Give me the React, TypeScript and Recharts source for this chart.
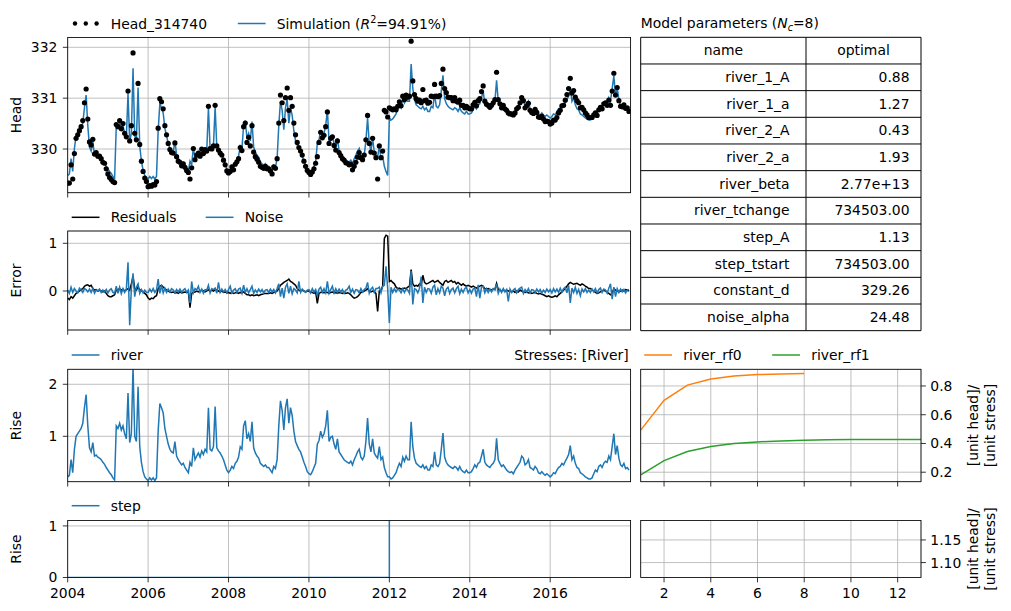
import React from 'react';
import { ComposedChart, Line, XAxis, YAxis, CartesianGrid } from 'recharts';

const W = 1011;
const H = 611;
const FONT = "'DejaVu Sans', sans-serif";
const FS = 13.9;
const BLUE = '#1f77b4';
const ORANGE = '#ff7f0e';
const GREEN = '#2ca02c';
const GRID = '#b0b0b0';

// Model parameters table
const paramNames = [
  'river_1_A', 'river_1_a', 'river_2_A', 'river_2_a', 'river_beta',
  'river_tchange', 'step_A', 'step_tstart', 'constant_d', 'noise_alpha',
];
const paramValues = [
  '0.88', '1.27', '0.43', '1.93', '2.77e+13',
  '734503.00', '1.13', '734503.00', '329.26', '24.48',
];

const constantD = 329.26;
const stepA = 1.13;
const stepStart = 2012.0; // 734503 = 2012-01-01

// Semi-monthly samples, 24 per year, starting 2004-01-01
const startYear = 2004;
const samplesPerYear = 24;

// Contribution of the river stress (rise)
const riverRise = [
  0.22, 0.25, 0.55, 0.30, 0.75, 1.00, 1.05, 1.10, 1.15, 1.25, 1.55, 1.80, 1.20, 0.78, 0.70, 0.88, 0.62, 0.64, 0.60, 0.58, 0.55, 0.50, 0.46, 0.40, // 2004
  0.35, 0.30, 0.26, 0.20, 0.16, 1.20, 1.15, 1.25, 1.12, 1.20, 1.05, 0.95, 1.83, 0.88, 1.05, 2.33, 1.00, 0.90, 1.95, 0.80, 0.50, 0.32, 0.22, 0.18, // 2005
  0.15, 0.20, 0.16, 0.20, 0.15, 0.20, 1.10, 1.63, 1.55, 1.45, 1.15, 1.00, 0.85, 0.75, 0.70, 0.68, 0.90, 0.62, 0.55, 0.50, 0.45, 0.48, 0.40, 0.35, // 2006
  0.30, 0.50, 0.42, 0.78, 0.55, 0.62, 0.68, 0.60, 0.72, 0.65, 0.75, 0.70, 1.55, 0.75, 0.72, 0.80, 1.57, 0.78, 0.72, 0.68, 0.62, 0.55, 0.45, 0.35, // 2007
  0.30, 0.35, 0.42, 0.38, 0.48, 0.52, 0.60, 0.80, 0.75, 1.20, 1.30, 0.95, 1.05, 0.90, 1.28, 0.78, 0.68, 0.62, 0.58, 0.48, 0.45, 0.42, 0.45, 0.40, // 2008
  0.40, 0.35, 0.30, 0.42, 0.38, 0.55, 1.20, 1.68, 1.50, 1.12, 1.55, 1.72, 1.25, 1.55, 1.40, 1.10, 0.90, 0.82, 0.75, 0.70, 0.60, 0.50, 0.42, 0.32, // 2009
  0.28, 0.26, 0.32, 0.40, 0.48, 0.85, 0.92, 1.10, 0.98, 1.05, 1.20, 1.50, 0.90, 0.98, 1.00, 0.85, 0.75, 0.95, 0.70, 0.65, 0.60, 0.55, 0.52, 0.50, // 2010
  0.48, 0.52, 0.45, 0.55, 0.62, 0.70, 0.75, 0.60, 0.55, 0.62, 0.90, 1.35, 0.85, 0.70, 0.95, 0.68, 0.62, 0.58, 0.80, 0.55, 0.60, 0.40, 0.30, 0.22, // 2011
  0.22, 0.18, 0.20, 0.25, 0.30, 0.40, 0.48, 0.42, 0.60, 0.52, 0.62, 0.55, 0.55, 1.28, 0.80, 0.58, 0.48, 0.45, 0.42, 0.40, 0.45, 0.38, 0.42, 0.35, // 2012
  0.35, 0.45, 0.42, 0.70, 0.45, 0.42, 0.48, 0.75, 1.06, 0.60, 0.50, 0.45, 0.42, 0.40, 0.38, 0.42, 0.40, 0.35, 0.42, 0.35, 0.32, 0.30, 0.35, 0.30, // 2013
  0.30, 0.32, 0.38, 0.45, 0.40, 0.48, 0.50, 0.62, 0.75, 0.50, 0.45, 0.42, 0.40, 0.45, 0.48, 0.55, 0.96, 0.55, 0.48, 0.42, 0.45, 0.40, 0.35, 0.32, // 2014
  0.30, 0.32, 0.28, 0.35, 0.40, 0.45, 0.50, 0.62, 0.58, 0.45, 0.48, 0.55, 0.40, 0.38, 0.35, 0.42, 0.38, 0.30, 0.28, 0.32, 0.28, 0.25, 0.28, 0.25, // 2015
  0.22, 0.25, 0.30, 0.28, 0.35, 0.40, 0.42, 0.48, 0.45, 0.52, 0.58, 0.65, 0.82, 0.55, 0.62, 0.48, 0.40, 0.38, 0.30, 0.28, 0.25, 0.22, 0.20, 0.18, // 2016
  0.18, 0.20, 0.28, 0.35, 0.32, 0.42, 0.45, 0.40, 0.48, 0.52, 0.50, 0.62, 0.55, 0.80, 1.05, 0.65, 0.82, 0.58, 0.45, 0.42, 0.48, 0.38, 0.40, 0.35, // 2017
];

// Residuals: observed minus simulated head
const residuals = [
  -0.15, -0.18, -0.12, -0.15, -0.10, -0.05, -0.03, 0.00, 0.03, 0.05, 0.10, 0.12, 0.13, 0.10, 0.12, 0.05, 0.02, 0.03, 0.00, 0.02, 0.00, -0.02, 0.00, -0.05, // 2004
  -0.10, -0.12, -0.12, -0.10, -0.08, 0.02, 0.03, 0.05, 0.02, 0.04, 0.00, 0.03, 0.05, 0.02, 0.15, 0.30, 0.05, 0.02, 0.08, 0.03, 0.00, -0.02, -0.05, -0.08, // 2005
  -0.15, -0.18, -0.15, -0.16, -0.12, -0.10, 0.05, 0.10, 0.12, 0.08, 0.05, 0.02, 0.00, -0.02, -0.03, -0.02, -0.04, -0.03, -0.05, -0.02, -0.04, -0.03, -0.02, -0.03, // 2006
  -0.02, -0.35, -0.05, -0.03, -0.02, 0.00, -0.02, 0.00, 0.02, 0.00, -0.02, 0.00, 0.03, 0.00, 0.02, 0.00, 0.03, 0.02, 0.00, -0.02, 0.00, -0.03, -0.02, -0.04, // 2007
  -0.03, -0.05, -0.03, -0.05, -0.04, -0.03, -0.05, -0.03, -0.04, -0.02, -0.05, -0.08, -0.08, -0.10, -0.08, -0.10, -0.09, -0.08, -0.10, -0.08, -0.07, -0.06, -0.05, -0.05, // 2008
  -0.05, -0.04, -0.05, -0.03, -0.02, 0.00, 0.05, 0.12, 0.15, 0.18, 0.20, 0.22, 0.25, 0.20, 0.18, 0.15, 0.12, 0.05, 0.02, 0.00, 0.02, 0.00, -0.02, 0.00, // 2009
  0.00, -0.02, -0.03, -0.05, -0.02, -0.26, -0.05, -0.03, -0.02, -0.04, -0.02, -0.03, -0.05, -0.03, -0.02, -0.04, -0.03, -0.05, -0.03, -0.04, -0.05, -0.03, -0.05, -0.04, // 2010
  -0.05, -0.08, -0.12, -0.15, -0.14, -0.12, -0.08, -0.03, -0.02, 0.00, 0.02, 0.05, 0.00, -0.02, 0.00, -0.02, -0.05, -0.43, 0.00, 0.02, 0.10, 1.10, 1.17, 1.15, // 2011
  0.20, 0.22, 0.18, 0.15, 0.08, 0.05, 0.06, 0.04, 0.05, 0.06, 0.05, 0.08, 0.10, 0.45, 0.15, 0.10, 0.12, 0.10, 0.15, 0.12, 0.33, 0.18, 0.15, 0.16, // 2012
  0.18, 0.20, 0.22, 0.18, 0.20, 0.22, 0.18, 0.15, 0.12, 0.20, 0.22, 0.18, 0.20, 0.22, 0.18, 0.20, 0.15, 0.18, 0.15, 0.12, 0.15, 0.12, 0.10, 0.12, // 2013
  0.10, 0.08, 0.10, 0.08, 0.06, 0.08, 0.10, 0.12, 0.10, 0.05, 0.04, 0.05, 0.03, 0.02, 0.04, 0.03, 0.16, 0.03, 0.02, 0.00, 0.02, 0.00, 0.02, 0.00, // 2014
  0.00, -0.02, 0.00, -0.03, 0.00, -0.02, 0.02, 0.00, -0.02, -0.03, -0.02, -0.04, -0.03, -0.05, -0.04, -0.03, -0.05, -0.06, -0.05, -0.07, -0.08, -0.10, -0.12, -0.10, // 2015
  -0.12, -0.13, -0.12, -0.10, -0.12, -0.08, -0.05, -0.02, 0.02, 0.05, 0.10, 0.15, 0.18, 0.16, 0.14, 0.15, 0.16, 0.14, 0.12, 0.15, 0.13, 0.10, 0.08, 0.05, // 2016
  0.05, 0.03, 0.00, -0.03, -0.05, -0.04, -0.02, 0.00, 0.02, 0.00, -0.03, -0.05, -0.08, -0.05, 0.05, 0.02, 0.00, -0.02, 0.00, 0.02, 0.00, 0.03, 0.02, 0.00, // 2017
];

// Noise series of the noise model
const noise = [
  0.02, -0.05, 0.08, -0.03, 0.05, 0.00, -0.04, 0.06, 0.02, -0.03, 0.05, 0.03, -0.02, 0.04, -0.03, 0.06, -0.05, 0.02, 0.00, 0.04, -0.03, 0.02, -0.02, 0.03, // 2004
  -0.04, 0.02, 0.05, -0.03, -0.05, 0.10, -0.05, 0.08, -0.06, 0.05, -0.03, 0.04, 0.60, -0.72, 0.05, 0.37, -0.12, 0.08, 0.15, -0.05, 0.03, -0.04, 0.02, -0.03, // 2005
  -0.03, 0.04, -0.02, 0.05, -0.03, 0.02, 0.25, -0.05, 0.12, -0.04, 0.06, -0.03, 0.04, -0.02, 0.05, 0.02, -0.04, 0.03, -0.02, 0.04, -0.03, 0.02, 0.05, -0.03, // 2006
  0.02, -0.25, 0.20, -0.04, 0.05, 0.02, 0.10, -0.03, 0.04, -0.05, 0.03, 0.02, 0.12, -0.04, 0.05, 0.03, 0.06, -0.05, 0.18, -0.03, 0.04, -0.02, 0.03, -0.04, // 2007
  0.03, 0.10, -0.04, 0.02, 0.05, -0.03, 0.04, 0.06, -0.05, 0.12, -0.03, 0.05, -0.04, 0.03, 0.10, -0.05, 0.02, -0.03, 0.04, -0.02, 0.03, -0.04, 0.02, 0.03, // 2008
  -0.03, 0.04, -0.02, 0.03, -0.04, 0.05, 0.15, -0.12, 0.06, -0.15, 0.08, 0.15, -0.05, 0.10, -0.06, 0.05, 0.02, -0.04, 0.20, -0.03, 0.04, 0.00, -0.03, 0.02, // 2009
  0.03, -0.04, 0.05, -0.02, 0.03, -0.10, 0.04, 0.08, -0.03, 0.05, -0.04, 0.20, -0.05, 0.03, 0.10, -0.04, 0.05, -0.03, 0.04, -0.02, 0.03, -0.05, 0.02, 0.04, // 2010
  0.10, -0.03, 0.04, -0.05, 0.03, 0.02, -0.04, 0.05, -0.02, 0.03, 0.06, 0.18, -0.05, 0.04, 0.08, -0.03, 0.05, 0.05, 0.08, -0.04, 0.10, 0.12, 0.52, 0.05, // 2011
  -0.67, 0.08, -0.03, 0.05, -0.02, 0.04, 0.02, -0.04, 0.05, -0.03, 0.04, 0.02, -0.05, 0.42, -0.28, 0.05, 0.03, -0.04, 0.06, 0.30, -0.25, 0.08, -0.03, 0.05, // 2012
  0.04, -0.05, 0.08, 0.12, -0.08, 0.05, -0.04, 0.10, 0.06, -0.10, 0.04, 0.08, -0.05, 0.03, 0.06, -0.04, 0.05, 0.10, -0.06, 0.04, -0.03, 0.05, 0.08, -0.04, // 2013
  0.03, -0.05, 0.04, 0.06, -0.12, 0.13, -0.15, 0.08, 0.10, -0.04, 0.05, -0.03, 0.04, -0.02, 0.05, 0.03, 0.15, -0.05, 0.04, -0.03, 0.05, -0.02, 0.03, -0.22, // 2014
  0.04, -0.03, 0.02, 0.05, -0.04, 0.03, 0.06, 0.08, -0.05, 0.03, -0.02, 0.05, -0.04, 0.03, 0.02, -0.03, 0.04, -0.02, 0.03, -0.04, 0.02, -0.03, 0.04, -0.02, // 2015
  0.03, -0.04, 0.05, -0.02, 0.04, -0.03, 0.06, -0.02, 0.05, 0.08, -0.04, 0.12, -0.25, 0.06, -0.03, 0.08, -0.05, 0.03, -0.10, 0.04, -0.02, 0.05, -0.03, 0.02, // 2016
  -0.03, 0.04, -0.02, 0.05, -0.04, 0.03, 0.06, -0.03, 0.04, 0.02, -0.05, 0.06, 0.15, -0.17, 0.08, -0.12, 0.05, -0.03, 0.04, -0.02, 0.03, -0.04, 0.02, 0.03, // 2017
];

// Step contribution
const stepTimes = [2004, 2012, 2012, 2018];
const stepRise = [0, 0, stepA, stepA];

const yearTicks = [2004, 2006, 2008, 2010, 2012, 2014, 2016];

// Step responses of the river stress components
const rfTime = [1, 2, 3, 4, 5, 6, 7, 8, 9, 10, 11, 12, 13];
const riverRf0 = [0.493, 0.700, 0.806, 0.849, 0.870, 0.879, 0.884, 0.886];
const riverRf1 = [0.181, 0.281, 0.344, 0.379, 0.400, 0.411, 0.418, 0.423, 0.426, 0.427, 0.428, 0.428, 0.428];

// simulation = constant + river + step ; observed = simulation + residual
const timeSeries = riverRise.map((river, i) => {
  const t = startYear + i / samplesPerYear;
  const sim = constantD + river + (t >= stepStart ? stepA : 0);
  return { t, sim, obs: sim + residuals[i], resid: residuals[i], noise: noise[i], river };
});
const stepData = stepTimes.map((t, i) => ({ t, step: stepRise[i] }));
const rfData = rfTime.map((x, i) => ({ x, rf0: riverRf0[i], rf1: riverRf1[i] }));

type Box = { x0: number; y0: number; x1: number; y1: number };

const headBox: Box = { x0: 67.7, y0: 37.5, x1: 630.6, y1: 192.7 };
const errBox: Box = { x0: 67.7, y0: 231, x1: 630.6, y1: 330 };
const riverBox: Box = { x0: 67.7, y0: 369.3, x1: 630.6, y1: 481.7 };
const stepBox: Box = { x0: 67.7, y0: 520.5, x1: 630.6, y1: 577.5 };
const rfBox: Box = { x0: 640.7, y0: 369.3, x1: 921, y1: 481.7 };
const srBox: Box = { x0: 640.7, y0: 520.5, x1: 921, y1: 577.5 };

// axes reserve a hair of space so they still render
const AX = 0.01;
const marginOf = (b: Box, right = false) => ({
  left: right ? b.x0 : b.x0 - AX,
  top: b.y0,
  right: right ? W - b.x1 - AX : W - b.x1,
  bottom: H - b.y1 - AX,
});

const tickStyle = { fontSize: FS, fill: '#000', fontFamily: FONT };
const tickLineStyle = { stroke: '#000', strokeWidth: 0.8 };
const TICK = 4.86;

function Layer({ children }: { children: React.ReactNode }) {
  return <div style={{ position: 'absolute', left: 0, top: 0 }}>{children}</div>;
}

function TimeAxes({ domain, ticks, dates }: { domain: [number, number]; ticks: number[]; dates: boolean }) {
  return (
    <>
      <CartesianGrid stroke={GRID} strokeWidth={0.8} />
      <XAxis
        type="number"
        dataKey="t"
        domain={[2004, 2018]}
        ticks={yearTicks}
        interval={0}
        allowDataOverflow
        height={AX}
        axisLine={false}
        tickLine={tickLineStyle}
        tickSize={TICK}
        tickMargin={6}
        tick={tickStyle}
        tickFormatter={(v: number) => (dates ? String(v) : '')}
      />
      <YAxis
        type="number"
        domain={domain}
        ticks={ticks}
        interval={0}
        allowDataOverflow
        width={AX}
        axisLine={false}
        tickLine={tickLineStyle}
        tickSize={TICK}
        tickMargin={5.5}
        tick={tickStyle}
      />
    </>
  );
}

function HeadPanel() {
  return (
    <Layer>
      <ComposedChart width={W} height={H} data={timeSeries} margin={marginOf(headBox)}>
        {TimeAxes({ domain: [329.141, 332.193], ticks: [330, 331, 332], dates: false })}
        <Line dataKey="obs" stroke="none" dot={{ r: 2.6, fill: '#000', stroke: 'none' }} isAnimationActive={false} />
        <Line dataKey="sim" stroke={BLUE} strokeWidth={1.5} dot={false} isAnimationActive={false} />
      </ComposedChart>
    </Layer>
  );
}

function ErrorPanel() {
  return (
    <Layer>
      <ComposedChart width={W} height={H} data={timeSeries} margin={marginOf(errBox)}>
        {TimeAxes({ domain: [-0.818, 1.258], ticks: [0, 1], dates: false })}
        <Line dataKey="resid" stroke="#000" strokeWidth={1.5} dot={false} isAnimationActive={false} />
        <Line dataKey="noise" stroke={BLUE} strokeWidth={1.5} dot={false} isAnimationActive={false} />
      </ComposedChart>
    </Layer>
  );
}

function RiverPanel() {
  return (
    <Layer>
      <ComposedChart width={W} height={H} data={timeSeries} margin={marginOf(riverBox)}>
        {TimeAxes({ domain: [0.127, 2.288], ticks: [1, 2], dates: false })}
        <Line dataKey="river" stroke={BLUE} strokeWidth={1.5} dot={false} isAnimationActive={false} />
      </ComposedChart>
    </Layer>
  );
}

function StepPanel() {
  return (
    <Layer>
      <ComposedChart width={W} height={H} data={stepData} margin={marginOf(stepBox)}>
        {TimeAxes({ domain: [0, 1.105], ticks: [0, 1], dates: true })}
        <Line dataKey="step" stroke={BLUE} strokeWidth={1.5} dot={false} isAnimationActive={false} />
      </ComposedChart>
    </Layer>
  );
}

function ResponseAxes({ domain, ticks, digits, labels }: { domain: [number, number]; ticks: number[]; digits: number; labels: boolean }) {
  return (
    <>
      <CartesianGrid stroke={GRID} strokeWidth={0.8} />
      <XAxis
        type="number"
        dataKey="x"
        domain={[1, 13]}
        ticks={[2, 4, 6, 8, 10, 12]}
        interval={0}
        allowDataOverflow
        height={AX}
        axisLine={false}
        tickLine={tickLineStyle}
        tickSize={TICK}
        tickMargin={6}
        tick={tickStyle}
        tickFormatter={(v: number) => (labels ? String(v) : '')}
      />
      <YAxis
        type="number"
        orientation="right"
        domain={domain}
        ticks={ticks}
        interval={0}
        allowDataOverflow
        width={AX}
        axisLine={false}
        tickLine={tickLineStyle}
        tickSize={TICK}
        tickMargin={4.5}
        tick={tickStyle}
        tickFormatter={(v: number) => v.toFixed(digits)}
      />
    </>
  );
}

function ResponsePanel() {
  return (
    <Layer>
      <ComposedChart width={W} height={H} data={rfData} margin={marginOf(rfBox, true)}>
        {ResponseAxes({ domain: [0.134, 0.916], ticks: [0.2, 0.4, 0.6, 0.8], digits: 1, labels: false })}
        <Line dataKey="rf0" stroke={ORANGE} strokeWidth={1.5} dot={false} isAnimationActive={false} />
        <Line dataKey="rf1" stroke={GREEN} strokeWidth={1.5} dot={false} isAnimationActive={false} />
      </ComposedChart>
    </Layer>
  );
}

function StepResponsePanel() {
  return (
    <Layer>
      <ComposedChart width={W} height={H} data={rfData} margin={marginOf(srBox, true)}>
        {ResponseAxes({ domain: [1.067, 1.193], ticks: [1.1, 1.15], digits: 2, labels: true })}
      </ComposedChart>
    </Layer>
  );
}

const frame = (b: Box, key: string) => (
  <rect key={key} x={b.x0} y={b.y0} width={b.x1 - b.x0} height={b.y1 - b.y0} fill="none" stroke="#000" strokeWidth={0.8} />
);

function LegendLine({ x, y, color, label }: { x: number; y: number; color: string; label: string }) {
  return (
    <g>
      <line x1={x} y1={y} x2={x + 27.8} y2={y} stroke={color} strokeWidth={1.5} />
      <text x={x + 39} y={y + 5} fontSize={FS}>{label}</text>
    </g>
  );
}

function YLabel({ x, y, lines }: { x: number; y: number; lines: string[] }) {
  return (
    <g>
      {lines.map((s, i) => (
        <text key={i} transform={`translate(${x + i * 16.7},${y}) rotate(-90)`} textAnchor="middle" fontSize={FS}>
          {s}
        </text>
      ))}
    </g>
  );
}

function ParamTable() {
  const x0 = 640.7;
  const xm = 806;
  const x1 = 921;
  const y0 = 37.3;
  const rowH = 26.67;
  const rows = paramNames.length + 1;
  const lines = [];
  for (let r = 0; r <= rows; r++) {
    lines.push(<line key={`h${r}`} x1={x0} x2={x1} y1={y0 + r * rowH} y2={y0 + r * rowH} stroke="#000" strokeWidth={1} />);
  }
  [x0, xm, x1].forEach((x, i) =>
    lines.push(<line key={`v${i}`} x1={x} x2={x} y1={y0} y2={y0 + rows * rowH} stroke="#000" strokeWidth={1} />),
  );
  return (
    <g fontSize={FS}>
      {lines}
      <text x={(x0 + xm) / 2} y={y0 + rowH / 2 + 4.7} textAnchor="middle">name</text>
      <text x={(xm + x1) / 2} y={y0 + rowH / 2 + 4.7} textAnchor="middle">optimal</text>
      {paramNames.map((n, i) => (
        <g key={n}>
          <text x={xm - 16.5} y={y0 + (i + 1.5) * rowH + 4.7} textAnchor="end">{n}</text>
          <text x={x1 - 11.5} y={y0 + (i + 1.5) * rowH + 4.7} textAnchor="end">{paramValues[i]}</text>
        </g>
      ))}
    </g>
  );
}

function Overlay() {
  return (
    <svg
      width={W}
      height={H}
      style={{ position: 'absolute', left: 0, top: 0, pointerEvents: 'none' }}
      fontFamily={FONT}
      fill="#000"
    >
      {[headBox, errBox, riverBox, stepBox, rfBox, srBox].map((b, i) => frame(b, `f${i}`))}

      {/* head legend */}
      <circle cx={75} cy={23.5} r={2.2} fill="#000" />
      <circle cx={85.8} cy={23.5} r={2.2} fill="#000" />
      <circle cx={96.6} cy={23.5} r={2.2} fill="#000" />
      <text x={110.7} y={28.5} fontSize={FS}>Head_314740</text>
      <line x1={237.8} y1={23.5} x2={265.6} y2={23.5} stroke={BLUE} strokeWidth={1.5} />
      <text x={276.7} y={28.5} fontSize={FS}>
        Simulation (<tspan fontStyle="italic">R</tspan>
        <tspan dy={-5.5} fontSize={9.7}>2</tspan>
        <tspan dy={5.5}>=94.91%)</tspan>
      </text>

      <LegendLine x={71.7} y={217.3} color="#000" label="Residuals" />
      <LegendLine x={205.7} y={217.3} color={BLUE} label="Noise" />
      <LegendLine x={71.7} y={355} color={BLUE} label="river" />
      <text x={628.6} y={360} fontSize={FS} textAnchor="end">Stresses: [River]</text>
      <LegendLine x={71.7} y={505.7} color={BLUE} label="step" />
      <LegendLine x={644.2} y={355} color={ORANGE} label="river_rf0" />
      <LegendLine x={772.2} y={355} color={GREEN} label="river_rf1" />

      <YLabel x={20.7} y={115} lines={['Head']} />
      <YLabel x={20.7} y={280.5} lines={['Error']} />
      <YLabel x={20.7} y={425.5} lines={['Rise']} />
      <YLabel x={20.7} y={549} lines={['Rise']} />
      <YLabel x={978.2} y={425.5} lines={['[unit head]/', '[unit stress]']} />
      <YLabel x={978.2} y={549} lines={['[unit head]/', '[unit stress]']} />

      <text x={640.7} y={28} fontSize={FS}>
        Model parameters (<tspan fontStyle="italic">N</tspan>
        <tspan dy={2.5} fontSize={9.7} fontStyle="italic">c</tspan>
        <tspan dy={-2.5}>=8)</tspan>
      </text>
      <ParamTable />
    </svg>
  );
}

export default function App() {
  return (
    <div style={{ position: 'absolute', left: 0, top: 0, width: W, height: H, background: '#fff', fontFamily: FONT }}>
      <HeadPanel />
      <ErrorPanel />
      <RiverPanel />
      <StepPanel />
      <ResponsePanel />
      <StepResponsePanel />
      <Overlay />
    </div>
  );
}
